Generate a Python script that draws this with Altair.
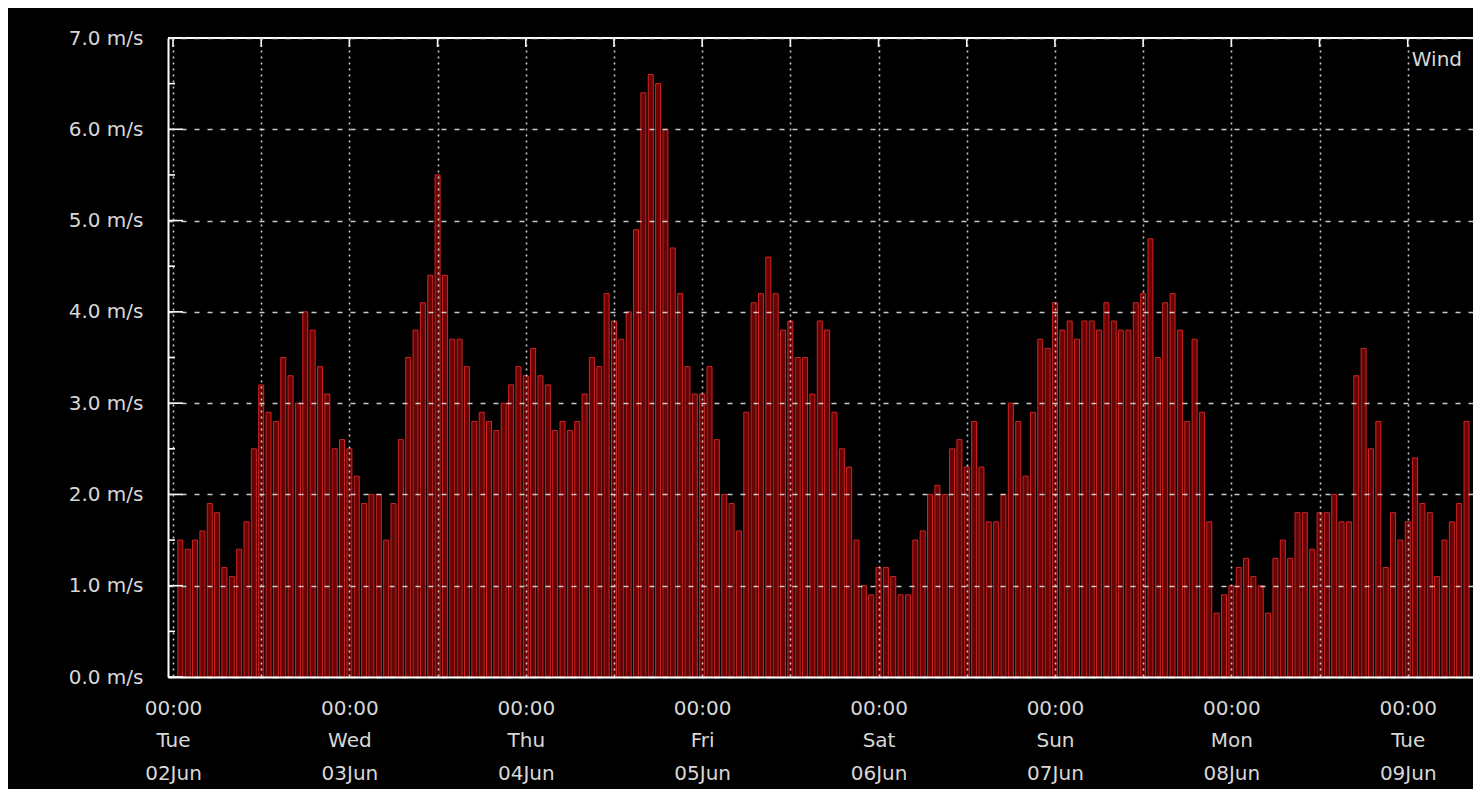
import altair as alt
import pandas as pd

# Hourly wind speed (m/s), first bar at Tue 02 Jun 01:00
wind = [1.5, 1.4, 1.5, 1.6, 1.9, 1.8, 1.2, 1.1, 1.4, 1.7, 2.5, 3.2, 2.9, 2.8, 3.5, 3.3, 3.0, 4.0, 3.8, 3.4, 3.1, 2.5, 2.6, 2.5,
        2.2, 1.9, 2.0, 2.0, 1.5, 1.9, 2.6, 3.5, 3.8, 4.1, 4.4, 5.5, 4.4, 3.7, 3.7, 3.4, 2.8, 2.9, 2.8, 2.7,
        3.0, 3.2, 3.4, 3.3, 3.6, 3.3, 3.2, 2.7, 2.8, 2.7, 2.8, 3.1, 3.5, 3.4, 4.2, 3.9, 3.7, 4.0, 4.9, 6.4, 6.6, 6.5,
        6.0, 4.7, 4.2, 3.4, 3.1, 3.1, 3.4, 2.6, 2.0, 1.9, 1.6, 2.9, 4.1, 4.2, 4.6, 4.2, 3.8, 3.9, 3.5, 3.5, 3.1, 3.9,
        3.8, 2.9, 2.5, 2.3, 1.5, 1.0, 0.9, 1.2, 1.2, 1.1, 0.9, 0.9, 1.5, 1.6, 2.0, 2.1, 2.0, 2.5, 2.6, 2.3, 2.8, 2.3,
        1.7, 1.7, 2.0, 3.0, 2.8, 2.2, 2.9, 3.7, 3.6, 4.1, 3.8, 3.9, 3.7, 3.9, 3.9, 3.8, 4.1, 3.9, 3.8, 3.8, 4.1, 4.2,
        4.8, 3.5, 4.1, 4.2, 3.8, 2.8, 3.7, 2.9, 1.7, 0.7, 0.9, 1.0, 1.2, 1.3, 1.1, 1.0, 0.7, 1.3, 1.5, 1.3, 1.8, 1.8,
        1.4, 1.8, 1.8, 2.0, 1.7, 1.7, 3.3, 3.6, 2.5, 2.8, 1.2, 1.8, 1.5, 1.7, 2.4, 1.9, 1.8, 1.1, 1.5, 1.7, 1.9, 2.8]

times = pd.date_range("2020-06-02 01:00", periods=len(wind), freq="h").strftime("%Y-%m-%dT%H:%M:%S").tolist()
df = pd.DataFrame({"time": times, "wind": wind})

grid_times = [f"2020-06-{d:02d}T{h:02d}:00:00" for d in range(2, 10) for h in (0, 12)][:-1]
y_values = [0, 1, 2, 3, 4, 5, 6, 7]
y_minor = [0.5, 1.5, 2.5, 3.5, 4.5, 5.5, 6.5]
legend_label = ["Wind"]

W, H = 1305, 639
FONT = "DejaVu Sans"
TXT = "#d8d8d8"

x_scale = alt.Scale(domain=[alt.DateTime(year=2020, month=6, date=2, hours=0),
                            alt.DateTime(year=2020, month=6, date=9, hours=8, minutes=12)])
y_scale = alt.Scale(domain=[0, 7], nice=False)

x_axis = alt.Axis(
    values=[alt.DateTime(year=2020, month=6, date=int(t[8:10]), hours=int(t[11:13])) for t in grid_times],
    labelExpr="hours(datum.value) == 0 ? [timeFormat(datum.value, '%H:%M'), timeFormat(datum.value, '%a'), timeFormat(datum.value, '%d%b')] : ''",
    grid=True, gridDash=[2, 4], gridColor="#e0e0e0", gridOpacity=0.9, gridWidth=1.6,
    ticks=False, domainColor="#ffffff", domainWidth=2,
    labelColor=TXT, labelFont=FONT, labelFontSize=20, labelPadding=21,
    labelBaseline="top", labelLineHeight=32.5, labelOverlap=False, labelFlush=False,
    title=None, zindex=1,
)
y_axis = alt.Axis(
    values=y_values,
    labelExpr="format(datum.value, '.1f') + ' m/s'",
    grid=True, gridDash=[5, 8], gridColor="#e0e0e0", gridOpacity=0.9, gridWidth=1.6,
    ticks=False, domainColor="#ffffff", domainWidth=2,
    labelColor=TXT, labelFont=FONT, labelFontSize=20, labelPadding=25,
    title=None, zindex=1,
)

bars = alt.Chart(df).mark_bar(width=5, fill="#6a0404", stroke="#d02424", strokeWidth=1).encode(
    x=alt.X("time:T", scale=x_scale, axis=x_axis),
    y=alt.Y("wind:Q", scale=y_scale, axis=y_axis),
)

top_border = alt.Chart(pd.DataFrame({"wind": [7.0]})).mark_rule(color="#ffffff", strokeWidth=2).encode(
    y=alt.Y("wind:Q", scale=y_scale, axis=y_axis)
)

major_ticks = alt.Chart(pd.DataFrame({"wind": y_values})).mark_rule(color="#ffffff", strokeWidth=1.6).encode(
    y=alt.Y("wind:Q", scale=y_scale, axis=y_axis), x=alt.value(0), x2=alt.value(15)
)
minor_ticks = alt.Chart(pd.DataFrame({"wind": y_minor})).mark_rule(color="#ffffff", strokeWidth=1.6).encode(
    y=alt.Y("wind:Q", scale=y_scale, axis=y_axis), x=alt.value(0), x2=alt.value(7)
)
top_ticks = alt.Chart(pd.DataFrame({"time": grid_times})).mark_rule(color="#ffffff", strokeWidth=1.6).encode(
    x=alt.X("time:T", scale=x_scale, axis=x_axis), y=alt.value(0), y2=alt.value(9)
)

legend = alt.Chart(pd.DataFrame({"label": legend_label})).mark_text(
    align="right", baseline="middle", font=FONT, fontSize=20, color=TXT
).encode(x=alt.value(W - 11), y=alt.value(22), text="label:N")

chart = alt.layer(bars, top_border, major_ticks, minor_ticks, top_ticks, legend).properties(
    width=W, height=H,
    autosize=alt.AutoSizeParams(type="none"),
    padding={"left": 160, "top": 30, "right": 0, "bottom": 112},
    background="#000000",
).configure_view(strokeWidth=0)

chart.save("out.html", embed_options={"renderer": "svg", "actions": False})
